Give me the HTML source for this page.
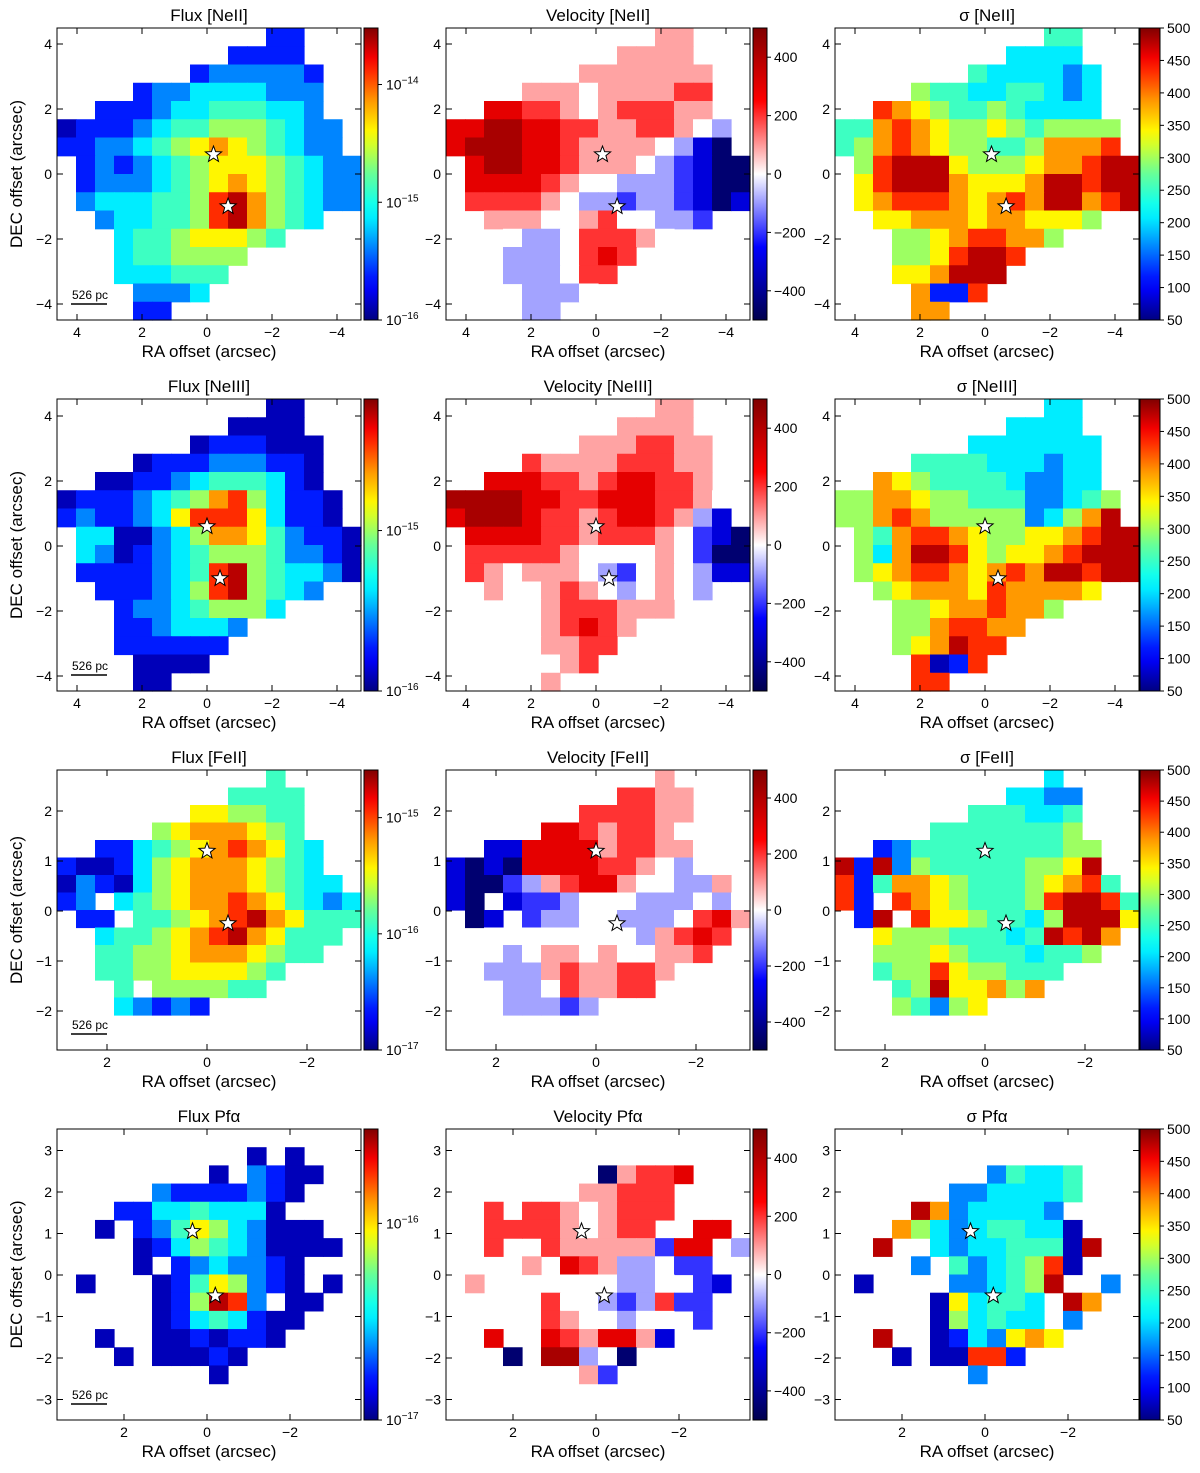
<!DOCTYPE html>
<html><head><meta charset="utf-8">
<style>
body{margin:0;background:#fff;}
svg text{font-family:"Liberation Sans",sans-serif;fill:#000;}
</style></head>
<body>
<svg id="fig" width="1200" height="1468" xmlns="http://www.w3.org/2000/svg"></svg>
<script>
// ---- data grids (16x16, '.' = no data, digits = colour level) ----
const fluxNeII=["...........11...",".........1111...",".......1222221..","....1223333222..","..111233444332..","011123445554322.","112234567654322.",".121234566654322",".122234567654322",".233344589754322","..233445897543..","...344566654....","...3445555......","...333444.......","....2223........","....11.........."];
const velNeII=["...........55...",".........5555...",".......5555555..","....5554555566..","..776654566655..","778877665566543.","788877655554310.",".788776555432100",".777765443332100",".666654332332101","..555445644332..","...433466654....","...3334676......","...333466.......","....3334........","....33.........."];
const sigNeII=["...........44...",".........3333...",".......4333323..","....5443344323..","..876544543333..","447876556545555.","457876554457778.",".589996555677899",".689997666799899",".678887678799789","..667776776665..","...556788775....","...5568998......","...667999.......","....7118........","....77.........."];
const fluxNeIII=["...........00...",".........0000...",".......0111000..","....0111222110..","..001123444310..","011123457853110.","121123688863110.",".330023577642110",".320123455542210",".111123489543320","..111235895432..","...122345553....","...1123332......","...111111.......","....0000........","....00.........."];
const velNeIII=["...........55...",".........5555...",".......5556655..","....6555566655..","..777665677665..","888877667776654.","788876656776531.",".777766566654210",".666665444454200",".654555432454311","..544565434543..","...445666555....","...4456765......","...445566.......","....4456........","....45.........."];
const sigNeIII=["...........33...",".........3333...",".......3333333..","....4444333233..","..765444432233..","557765544422345.","557875555523579.",".547887655667899",".537998656678999",".567887678799899","..567776877776..","...556778775....","...5578877......","...567988.......","....8018........","....88.........."];
const fluxFeII=["...........4....",".........4444...",".......665544...",".....56777654...","..113456787643..","10013567776543..","021035677765433.","12.3456778764323",".11.445678976444","..3445678976444.","..445567776544..","..4455666654....","...4.555544.....","...32121........","................","................"];
const velFeII=["...........5....",".........6655...",".......666655...",".....77656654...","..117777566554..","10107777665434..","100235677544335.","10.1223444333434",".01.233443334675","..4444444435676.","..434554544556..","..3335655665....","...33465566.....","...33323........","................","................"];
const sigFeII=["...........3....",".........3322...",".......444334...",".....44444445...","..124444444455..","91925444445569..","814776544456784.","81.8765444589984",".19.866544359996","..6555444349897.","..555654443445..","..4558655444....","...45966757.....","...54256........","................","................"];
const fluxPfa=["................","..........0.0...","........0.2100..",".....21111210...","...113343330....","..0.1246532000..","....01354320000.","....0.1232210...",".0...01465210.0.",".....015982.00..",".....01343100...","..0..0010110....","...0.00010......","........0.......","................","................"];
const velPfa=["................","................","........05667...",".....4455666....","..6.66545666....","..666654566..77.","..6..655555277.3","....5.76533422..",".5....444334.21.",".....644323622..",".....6544344.2..","..7..7657751....","...0.88340......",".......52.......","................","................"];
const sigPfa=["................","................","........24334...","......2233334...","....97233332....","...7532344330...","..9..323344409..","....2.4234580...",".0....223459..2.",".....063443.97..",".....053433.2...","..9..0132676....","...0.00881......",".......2........","................","................"];
// velocity value (km/s) represented by each digit of the velocity grids
const velLevels=[-450,-300,-200,-90,0,90,200,300,420];
// ---- labels / ticks ----
const rowNames=["[NeII]","[NeIII]","[FeII]","Pfα"];
const xTicksWide=[4,2,0,-2,-4];
const xTicksNarrow=[2,0,-2];
const yTicksWide=[4,2,0,-2,-4];
const yTicksFeII=[2,1,0,-1,-2];
const yTicksPfa=[3,2,1,0,-1,-2,-3];
const velTicks=[400,200,0,-200,-400];
const sigTicks=[500,450,400,350,300,250,200,150,100,50];
const fluxExpRow1=[-14,-15,-16];
const fluxExpRow2=[-15,-16];
const fluxExpRow3=[-15,-16,-17];
const fluxExpRow4=[-16,-17];
const fluxRange=[[-16,-13.52],[-16,-14.18],[-17,-14.59],[-17,-15.52]];
const stars=[[[-0.2,0.6],[-0.65,-1.0]],[[0,0.6],[-0.4,-1.0]],[[0,1.2],[-0.42,-0.25]],[[0.35,1.05],[-0.2,-0.5]]];

const NS="http://www.w3.org/2000/svg";
const svg=document.getElementById('fig');
function mk(tag,attrs,parent){const e=document.createElementNS(NS,tag);for(const k in attrs)e.setAttribute(k,attrs[k]);(parent||svg).appendChild(e);return e;}
function lerp(a,b,t){return a+(b-a)*t;}
function interp(stops,t){t=Math.max(0,Math.min(1,t));for(let i=0;i<stops.length-1;i++){const[a,ca]=stops[i],[b,cb]=stops[i+1];if(t<=b){const u=(t-a)/(b-a);return 'rgb('+[0,1,2].map(k=>Math.round(255*lerp(ca[k],cb[k],u))).join(',')+')';}}return 'rgb(0,0,0)';}
const jetStops=[[0,[0,0,0.5]],[0.11,[0,0,1]],[0.125,[0,0,1]],[0.34,[0,0.9,1]],[0.375,[0,1,1]],[0.5,[0.4,1,0.6]],[0.64,[1,1,0]],[0.75,[1,0.6,0]],[0.89,[1,0,0]],[1,[0.5,0,0]]];
const seisStops=[[0,[0,0,0.3]],[0.25,[0,0,1]],[0.5,[1,1,1]],[0.75,[1,0,0]],[1,[0.5,0,0]]];
function jet(t){return interp(jetStops,t);}
function seis(t){return interp(seisStops,t);}

const colX=[57,446,835], colW=304;
const rowY=[28,399,770,1129], rowH=[292,292,280,291];
const cbX=[364,753,1140], cbW=[14,14,20];
const xScale=[32.5,32.5,50,41.5], yScale=[32.5,32.5,50,41.5];
const yZero=[146,147,141,146];
const grids=[[fluxNeII,velNeII,sigNeII],[fluxNeIII,velNeIII,sigNeIII],[fluxFeII,velFeII,sigFeII],[fluxPfa,velPfa,sigPfa]];
const xTicksRows=[xTicksWide,xTicksWide,xTicksNarrow,xTicksNarrow];
const yTicksRows=[yTicksWide,yTicksWide,yTicksFeII,yTicksPfa];
const fluxExps=[fluxExpRow1,fluxExpRow2,fluxExpRow3,fluxExpRow4];

let defs=mk('defs',{});
function grad(id,fn){const g=mk('linearGradient',{id:id,x1:0,y1:1,x2:0,y2:0},defs);for(let i=0;i<=20;i++){mk('stop',{offset:i/20,'stop-color':fn(i/20)},g);}}
grad('gjet',jet);grad('gseis',seis);

for(let r=0;r<4;r++){
 for(let c=0;c<3;c++){
  const x0=colX[c],y0=rowY[r],h=rowH[r];
  const g=mk('g',{});
  
  
  const grid=grids[r][c];
  const cw=colW/16,ch=h/16;
  const hm=mk('g',{},g);
  
  
  for(let j=0;j<16;j++)for(let i=0;i<16;i++){
   const ch_=grid[j][i]; if(ch_==='.'||ch_===' '||ch_===undefined)continue;
   const d=+ch_;
   const col=c===1?seis((velLevels[Math.min(d,8)]+500)/1000):jet((d+0.5)/10);
   const cell=mk('rect',{x:(x0+i*cw).toFixed(2),y:(y0+j*ch).toFixed(2),width:(cw+0.6).toFixed(2),height:(ch+0.6).toFixed(2),fill:col},hm);
   
   
  }
  const fr=mk('rect',{x:x0,y:y0,width:colW,height:h,fill:'none',stroke:'#000','stroke-width':1},g);
  
  
  const xz=x0+150;
  xTicksRows[r].forEach(v=>{
   const px=xz-v*xScale[r];
   mk('line',{x1:px,y1:y0+h,x2:px,y2:y0+h-6,stroke:'#000'},g);
   mk('line',{x1:px,y1:y0,x2:px,y2:y0+6,stroke:'#000'},g);
   const t=mk('text',{x:px,y:y0+h+17,'font-size':14,'text-anchor':'middle'},g);
   t.textContent=v<0?'−'+(-v):String(v);
   
   
  });
  const yz=y0+yZero[r];
  yTicksRows[r].forEach(v=>{
   const py=yz-v*yScale[r];
   mk('line',{x1:x0,y1:py,x2:x0+6,y2:py,stroke:'#000'},g);
   mk('line',{x1:x0+colW,y1:py,x2:x0+colW-6,y2:py,stroke:'#000'},g);
   const t=mk('text',{x:x0-5,y:py+5,'font-size':14,'text-anchor':'end'},g);
   t.textContent=v<0?'−'+(-v):String(v);
   
   
  });
  const tt=mk('text',{x:x0+colW/2,y:y0-7,'font-size':17,'text-anchor':'middle'},g);
  tt.textContent=(c===0?'Flux ':c===1?'Velocity ':'σ ')+rowNames[r];
  
  
  const xl=mk('text',{x:x0+colW/2,y:y0+h+37,'font-size':17,'text-anchor':'middle'},g);
  xl.textContent='RA offset (arcsec)';
  
  
  if(c===0){
   const yl=mk('text',{x:22,y:y0+h/2,'font-size':17,'text-anchor':'middle',transform:'rotate(-90 22 '+(y0+h/2)+')'},g);
   yl.textContent='DEC offset (arcsec)';
   
   
   const sb=mk('line',{x1:71,y1:y0+h-16,x2:107,y2:y0+h-16,stroke:'#000','stroke-width':1.5},g);
   
   
   const st=mk('text',{x:72,y:y0+h-21,'font-size':12},g);
   st.textContent='526 pc';
   
   
  }
  stars[r].forEach(s=>{
   const sx=xz-s[0]*xScale[r], sy=yz-s[1]*yScale[r];
   let pts=[];for(let k=0;k<10;k++){const a=-Math.PI/2+k*Math.PI/5;const rr=k%2?3.6:8.5;pts.push((sx+rr*Math.cos(a)).toFixed(1)+','+(sy+rr*Math.sin(a)).toFixed(1));}
   const p=mk('polygon',{points:pts.join(' '),fill:'#fff',stroke:'#000','stroke-width':1},g);
   
   
  });
  const bx=cbX[c],bw=cbW[c];
  const cb=mk('rect',{x:bx,y:y0,width:bw,height:h,fill:c===1?'url(#gseis)':'url(#gjet)',stroke:'#000','stroke-width':1},g);
  
  
  if(c===0){
   const [lo,hi]=fluxRange[r];
   fluxExps[r].forEach(e=>{
    const py=y0+h-(e-lo)/(hi-lo)*h;
    mk('line',{x1:bx+bw,y1:py,x2:bx+bw+4,y2:py,stroke:'#000'},g);
    const t=mk('text',{x:bx+bw+8,y:py+5,'font-size':14},g);
    t.textContent='10';
    const sp=mk('tspan',{dy:-6,'font-size':10},t);sp.textContent='−'+(-e);
    
    
   });
  } else {
   const ticks=c===1?velTicks:sigTicks;
   const lo=c===1?-500:50, hi=500;
   ticks.forEach(v=>{
    const py=y0+h-(v-lo)/(hi-lo)*h;
    mk('line',{x1:bx+bw,y1:py,x2:bx+bw+4,y2:py,stroke:'#000'},g);
    const t=mk('text',{x:bx+bw+7,y:py+5,'font-size':14},g);
    t.textContent=v<0?'−'+(-v):String(v);
    
    
   });
  }
 }
}
</script>
</body></html>
